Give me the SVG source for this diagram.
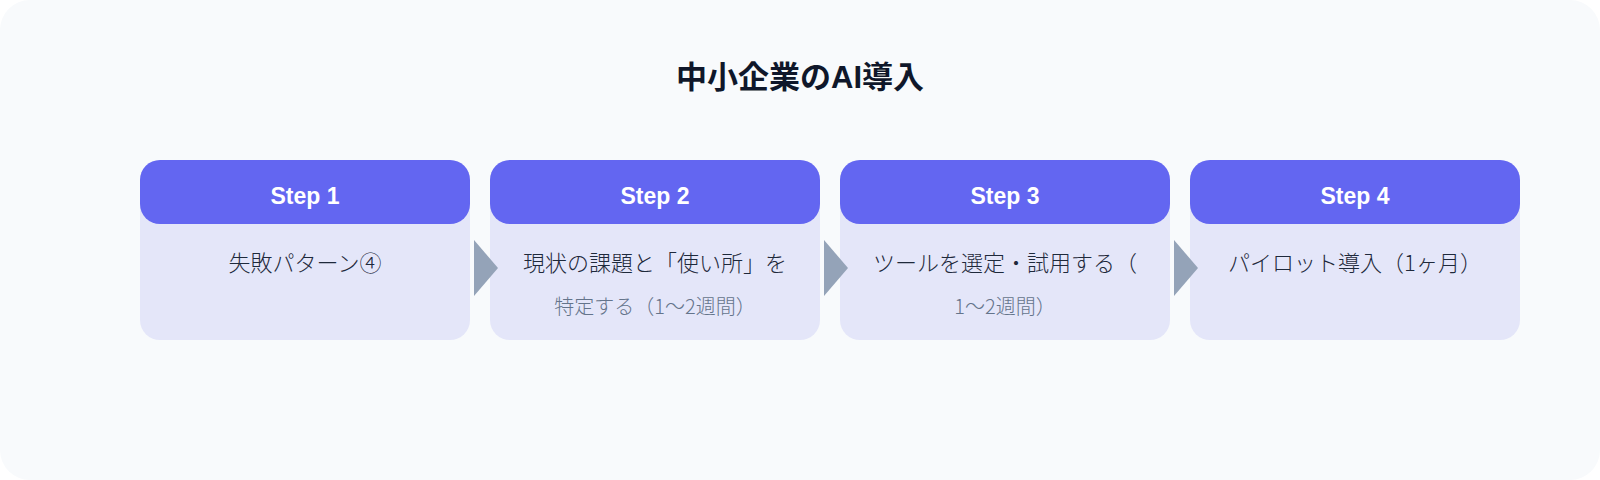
<svg xmlns="http://www.w3.org/2000/svg" width="1600" height="480" viewBox="0 0 1600 480">
<style>
.bg{fill:#f8fafc}
.body{fill:#e4e6f9}
.head{fill:#6366f1}
.title{font-family:"Liberation Sans","Noto Sans CJK JP",sans-serif;font-size:31px;font-weight:bold;fill:#0f172a;text-anchor:middle}
.step{font-family:"Liberation Sans","Noto Sans CJK JP",sans-serif;font-size:23px;font-weight:bold;fill:#ffffff;text-anchor:middle}
.t1{font-family:"Noto Sans CJK JP",sans-serif;font-size:22px;font-weight:300;fill:#1e293b;text-anchor:middle}
.t2{font-family:"Noto Sans CJK JP",sans-serif;font-size:20px;font-weight:300;fill:#64748b;text-anchor:middle}
.arrow{fill:#94a3b8}
</style>
<rect class="bg" x="0" y="0" width="1600" height="480" rx="30"/>
<text class="title" x="800" y="88">中小企業のAI導入</text>
<g id="step1">
<rect class="body" x="140" y="160" width="330" height="180" rx="20"/>
<rect class="head" x="140" y="160" width="330" height="64" rx="20"/>
<text class="step" x="305" y="204">Step 1</text>
<text class="t1" x="305" y="271">失敗パターン④</text>
</g>
<g id="step2">
<rect class="body" x="490" y="160" width="330" height="180" rx="20"/>
<rect class="head" x="490" y="160" width="330" height="64" rx="20"/>
<text class="step" x="655" y="204">Step 2</text>
<text class="t1" x="655" y="271">現状の課題と「使い所」を</text>
<text class="t2" x="655" y="314">特定する（1〜2週間）</text>
</g>
<g id="step3">
<rect class="body" x="840" y="160" width="330" height="180" rx="20"/>
<rect class="head" x="840" y="160" width="330" height="64" rx="20"/>
<text class="step" x="1005" y="204">Step 3</text>
<text class="t1" x="1005" y="271">ツールを選定・試用する（</text>
<text class="t2" x="1005" y="314">1〜2週間）</text>
</g>
<g id="step4">
<rect class="body" x="1190" y="160" width="330" height="180" rx="20"/>
<rect class="head" x="1190" y="160" width="330" height="64" rx="20"/>
<text class="step" x="1355" y="204">Step 4</text>
<text class="t1" x="1355" y="271">パイロット導入（1ヶ月）</text>
</g>
<g id="connectors">
<polygon class="arrow" points="474,240 498,268 474,296"/>
<polygon class="arrow" points="824,240 848,268 824,296"/>
<polygon class="arrow" points="1174,240 1198,268 1174,296"/>
</g>
</svg>
